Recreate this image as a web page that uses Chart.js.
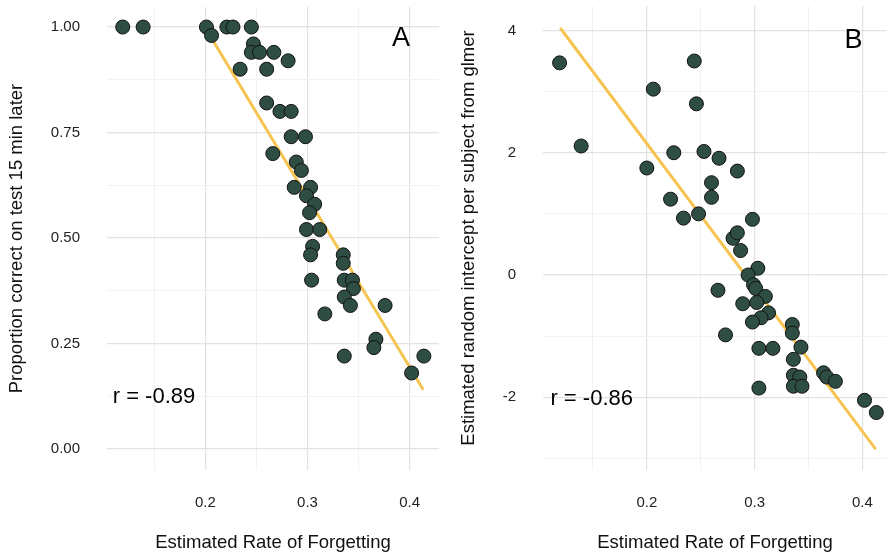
<!DOCTYPE html>
<html>
<head>
<meta charset="utf-8">
<script src="https://cdn.jsdelivr.net/npm/chart.js@4.4.1/dist/chart.umd.min.js"></script>
<style>
  html, body { margin: 0; padding: 0; background: #fff; overflow: hidden; }
  #wrap { position: relative; width: 887px; height: 556px; }
  #chartA { position: absolute; left: 0; top: 0; }
  #chartB { position: absolute; left: 443px; top: 0; }
</style>
</head>
<body>
<div id="wrap">
  <canvas id="chartA" width="443" height="556"></canvas>
  <canvas id="chartB" width="444" height="556"></canvas>
</div>
<script>
// data - panel A (proportion correct vs forgetting rate)
const xA = [0.119, 0.139, 0.201, 0.221, 0.227, 0.245, 0.206, 0.247, 0.245, 0.253, 0.267, 0.281,
  0.234, 0.260, 0.260, 0.273, 0.284, 0.284, 0.298, 0.266, 0.289, 0.294, 0.287, 0.303, 0.299,
  0.307, 0.302, 0.299, 0.312, 0.305, 0.303, 0.335, 0.335, 0.304, 0.336, 0.344, 0.345, 0.336,
  0.342, 0.376, 0.317, 0.367, 0.365, 0.336, 0.414, 0.402];
const yA = [1, 1, 1, 1, 1, 1, 0.98, 0.96, 0.94, 0.94, 0.94, 0.92,
  0.90, 0.90, 0.82, 0.80, 0.80, 0.74, 0.74, 0.70, 0.68, 0.66, 0.62, 0.62, 0.60,
  0.58, 0.56, 0.52, 0.52, 0.48, 0.46, 0.46, 0.44, 0.40, 0.40, 0.40, 0.38, 0.36,
  0.34, 0.34, 0.32, 0.26, 0.24, 0.22, 0.22, 0.18];
const fitA = [[0.2081, 0.965], [0.4134, 0.140]];

// data - panel B (random intercept vs forgetting rate)
const xB = [0.119, 0.139, 0.206, 0.200, 0.244, 0.246, 0.225, 0.253, 0.267, 0.284, 0.260, 0.260,
  0.222, 0.234, 0.248, 0.298, 0.280, 0.284, 0.287, 0.303, 0.294, 0.299, 0.301, 0.266, 0.310,
  0.289, 0.302, 0.313, 0.306, 0.298, 0.273, 0.335, 0.335, 0.343, 0.304, 0.317, 0.336, 0.364,
  0.367, 0.375, 0.336, 0.342, 0.336, 0.344, 0.304, 0.402, 0.413];
const yB = [3.47, 2.11, 3.04, 1.75, 3.50, 2.80, 2.00, 2.02, 1.91, 1.70, 1.51, 1.27,
  1.24, 0.93, 1.00, 0.91, 0.60, 0.69, 0.40, 0.11, 0.00, -0.16, -0.22, -0.25, -0.35,
  -0.47, -0.45, -0.62, -0.70, -0.77, -0.98, -0.81, -0.95, -1.18, -1.20, -1.20, -1.38, -1.60,
  -1.67, -1.74, -1.64, -1.67, -1.82, -1.82, -1.85, -2.05, -2.25];
const fitB = [[0.1196, 4.04], [0.4124, -2.85]];

// ticks (major get labels, minor only grid lines)
const xTicks = [0.15, 0.2, 0.25, 0.3, 0.35, 0.4];
const xMajor = [0.2, 0.3, 0.4];
const yTicksA = [0, 0.125, 0.25, 0.375, 0.5, 0.625, 0.75, 0.875, 1];
const yMajorA = [0, 0.25, 0.5, 0.75, 1];
const yTicksB = [-3, -2, -1, 0, 1, 2, 3, 4];
const yMajorB = [-2, 0, 2, 4];

const FONT = "'Liberation Sans', Arial, Helvetica, sans-serif";
const isIn = (arr, v) => arr.some(a => Math.abs(a - v) < 1e-9);

// draws the panel letter and the r label in data coordinates
const notes = {
  id: 'notes',
  afterDatasetsDraw(chart, args, opts) {
    const ctx = chart.ctx;
    const xs = chart.scales.x, ys = chart.scales.y;
    ctx.save();
    ctx.fillStyle = '#000';
    ctx.textAlign = 'center';
    ctx.textBaseline = 'middle';
    opts.items.forEach(it => {
      ctx.font = it.size + 'px ' + FONT;
      ctx.fillText(it.text, xs.getPixelForValue(it.x), ys.getPixelForValue(it.y));
    });
    ctx.restore();
  }
};

function makePanel(id, cfg) {
  const pts = cfg.x.map((v, i) => ({ x: v, y: cfg.y[i] }));
  return new Chart(document.getElementById(id), {
    type: 'scatter',
    data: {
      datasets: [{
        data: pts,
        order: 1,
        pointRadius: 7,
        pointHoverRadius: 7,
        pointBackgroundColor: '#2f4e43',
        pointBorderColor: '#111',
        pointBorderWidth: 1
      }, {
        type: 'line',
        data: cfg.fit.map(p => ({ x: p[0], y: p[1] })),
        order: 2,
        borderColor: '#f5c451',
        borderWidth: 3,
        pointRadius: 0,
        fill: false
      }]
    },
    options: {
      responsive: false,
      devicePixelRatio: 1,
      animation: false,
      layout: { padding: cfg.pad, autoPadding: false },
      plugins: {
        legend: { display: false },
        tooltip: { enabled: false },
        notes: { items: cfg.notes }
      },
      scales: {
        x: {
          type: 'linear',
          min: 0.1036,
          max: cfg.xMax,
          afterBuildTicks: s => { s.ticks = xTicks.map(v => ({ value: v })); },
          afterFit: s => { s.height = 86; s.paddingLeft = 0; s.paddingRight = 0; },
          border: { display: false },
          grid: {
            drawTicks: false,
            color: c => isIn(xMajor, c.tick.value) ? '#e2e2e2' : '#f2f2f2',
            lineWidth: c => isIn(xMajor, c.tick.value) ? 1.2 : 1
          },
          ticks: {
            padding: 24,
            color: '#222',
            font: { family: FONT, size: 15 },
            callback: v => isIn(xMajor, v) ? v.toFixed(1) : ''
          },
          title: {
            display: true,
            text: 'Estimated Rate of Forgetting',
            color: '#111',
            font: { family: FONT, size: 18.5 },
            padding: { top: 0, bottom: 2 }
          }
        },
        y: {
          type: 'linear',
          min: cfg.yMin,
          max: cfg.yMax,
          afterBuildTicks: s => { s.ticks = cfg.yTicks.map(v => ({ value: v })); },
          afterFit: s => { s.width = cfg.yWidth; s.paddingTop = 0; s.paddingBottom = 0; },
          border: { display: false },
          grid: {
            drawTicks: false,
            color: c => isIn(cfg.yMajor, c.tick.value) ? '#e2e2e2' : '#f2f2f2',
            lineWidth: c => isIn(cfg.yMajor, c.tick.value) ? 1.2 : 1
          },
          ticks: {
            padding: 27,
            color: '#222',
            font: { family: FONT, size: 15 },
            callback: cfg.yLabel
          },
          title: {
            display: true,
            text: cfg.yTitle,
            color: '#111',
            font: { family: FONT, size: 18.5 },
            padding: { top: cfg.yTitlePad, bottom: 0 }
          }
        }
      }
    },
    plugins: [notes]
  });
}

const chartA = makePanel('chartA', {
  x: xA, y: yA, fit: fitA,
  xMax: 0.4288,
  yMin: -0.05, yMax: 1.0475,
  yTicks: yTicksA, yMajor: yMajorA,
  yLabel: v => isIn(yMajorA, v) ? v.toFixed(2) : '',
  yWidth: 107,
  yTitle: 'Proportion correct on test 15 min later',
  yTitlePad: 6,
  pad: { top: 7, right: 4, bottom: 0, left: 0 },
  notes: [
    { text: 'A', x: 0.3917, y: 0.9735, size: 27 },
    { text: 'r = -0.89', x: 0.1496, y: 0.1236, size: 22 }
  ]
});

const chartB = makePanel('chartB', {
  x: xB, y: yB, fit: fitB,
  xMax: 0.4229,
  yMin: -3.19, yMax: 4.40,
  yTicks: yTicksB, yMajor: yMajorB,
  yLabel: v => isIn(yMajorB, v) ? String(v) : '',
  yWidth: 100,
  yTitle: 'Estimated random intercept per subject from glmer',
  yTitlePad: 15,
  pad: { top: 6, right: 0, bottom: 0, left: 0 },
  notes: [
    { text: 'B', x: 0.3917, y: 3.83, size: 27 },
    { text: 'r = -0.86', x: 0.1488, y: -2.03, size: 22 }
  ]
});
</script>
</body>
</html>
